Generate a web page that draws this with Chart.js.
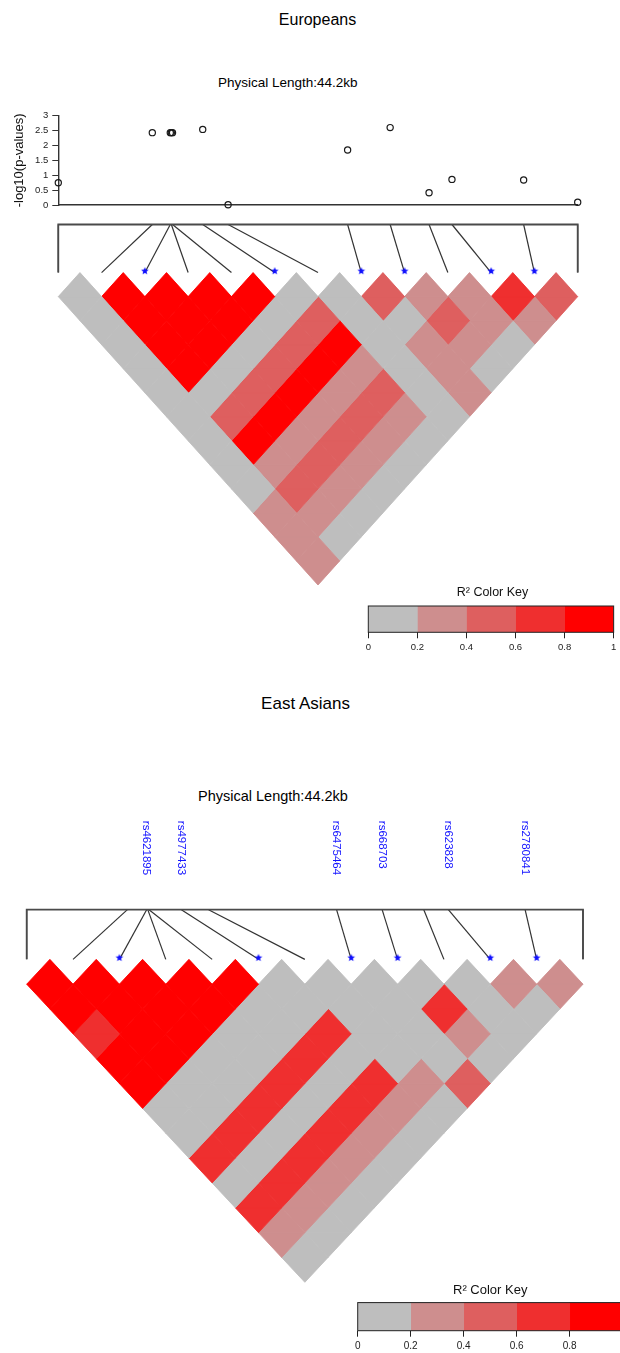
<!DOCTYPE html>
<html>
<head>
<meta charset="utf-8">
<script src="https://cdn.jsdelivr.net/npm/chart.js"></script>
<style>
  html, body { margin: 0; padding: 0; width: 620px; height: 1353px; overflow: hidden; background: #fff; }
  body { position: relative; font-family: "Liberation Sans", Arial, Helvetica, sans-serif; color: #000; }
  canvas { position: absolute; }
  .txt { position: absolute; white-space: nowrap; line-height: 1; transform: translateY(-50%); }
  .ctr { transform: translate(-50%, -50%); }
</style>
</head>
<body>
<div class="txt ctr" style="left:317.5px; top:20px; font-size:16px;">Europeans</div>
<div class="txt" id="lenEur" style="left:218px; top:83px; font-size:13.5px;"></div>
<canvas id="pvalEur" width="620" height="120" style="left:0; top:100px;"></canvas>
<canvas id="ldEur" width="620" height="400" style="left:0; top:200px;"></canvas>
<canvas id="keyEur" width="280" height="90" style="left:340px; top:570px;"></canvas>

<div class="txt ctr" style="left:305.5px; top:703px; font-size:17px;">East Asians</div>
<div class="txt" id="lenEas" style="left:198px; top:796px; font-size:14.5px;"></div>
<canvas id="ldEas" width="620" height="500" style="left:0; top:800px;"></canvas>
<canvas id="keyEas" width="300" height="95" style="left:330px; top:1265px;"></canvas>

<script>
// ---- data ----
const physicalLengthKb = 44.2;
// SNP positions along the region (kb from the first SNP)
const snpPositionsKb = [0, 8.0, 9.53, 9.62, 9.72, 12.29, 14.45, 24.62, 28.24, 31.55, 33.50, 39.60, 44.2];
// association strength for Europeans, -log10(p)
const eurNegLog10P = [0.75, 2.43, 2.43, 2.43, 2.43, 2.54, 0.01, 1.85, 2.60, 0.41, 0.86, 0.84, 0.09];
const pValueTicks = [0, 0.5, 1, 1.5, 2, 2.5, 3];
// highlighted SNPs (1-based index) and their names
const markedSnps = [3, 6, 8, 9, 11, 12];
const markedSnpNames = ["rs4621895", "rs4977433", "rs6475464", "rs668703", "rs623828", "rs2780841"];
// R² colour bins
const r2Breaks = [0, 0.2, 0.4, 0.6, 0.8, 1];
const r2Colors = ["#BEBEBE", "#CE8E8E", "#DE5F5F", "#EF2F2F", "#FF0000"];

// pairwise R²: row i holds SNP i against SNPs i+1 .. 13
const eurR2 = [
  [0.06, 0.04, 0.05, 0.07, 0.03, 0.09, 0.12, 0.08, 0.10, 0.28, 0.33, 0.26],
  [0.96, 0.94, 0.95, 0.92, 0.11, 0.47, 0.88, 0.31, 0.52, 0.29, 0.08],
  [0.97, 0.95, 0.93, 0.12, 0.49, 0.90, 0.33, 0.51, 0.27, 0.07],
  [0.98, 0.94, 0.10, 0.46, 0.89, 0.30, 0.53, 0.32, 0.09],
  [0.95, 0.13, 0.45, 0.91, 0.34, 0.48, 0.28, 0.06],
  [0.09, 0.50, 0.87, 0.29, 0.55, 0.31, 0.05],
  [0.04, 0.06, 0.11, 0.08, 0.13, 0.10],
  [0.52, 0.14, 0.27, 0.35, 0.24],
  [0.30, 0.56, 0.26, 0.12],
  [0.33, 0.22, 0.09],
  [0.71, 0.36],
  [0.45]
];
const easR2 = [
  [0.93, 0.91, 0.74, 0.95, 0.90, 0.08, 0.11, 0.68, 0.05, 0.66, 0.27, 0.04],
  [0.97, 0.95, 0.96, 0.94, 0.09, 0.12, 0.72, 0.06, 0.69, 0.31, 0.03],
  [0.98, 0.96, 0.93, 0.07, 0.10, 0.70, 0.05, 0.67, 0.29, 0.04],
  [0.97, 0.95, 0.06, 0.13, 0.73, 0.08, 0.65, 0.33, 0.02],
  [0.96, 0.10, 0.09, 0.71, 0.07, 0.68, 0.30, 0.05],
  [0.12, 0.08, 0.69, 0.11, 0.64, 0.28, 0.06],
  [0.05, 0.09, 0.07, 0.13, 0.26, 0.08],
  [0.04, 0.10, 0.06, 0.15, 0.47],
  [0.11, 0.72, 0.32, 0.07],
  [0.09, 0.14, 0.05],
  [0.34, 0.12],
  [0.27]
];

// ---- helpers ----
const FONT = '"Liberation Sans", Arial, Helvetica, sans-serif';
Chart.defaults.font.family = FONT;
Chart.defaults.color = "#111";

const nSnp = snpPositionsKb.length;
const slotKb = physicalLengthKb / (nSnp - 1);        // spacing of SNP slots along the triangle top

function r2Color(v) {
  let k = 0;
  while (k < r2Colors.length - 1 && v >= r2Breaks[k + 1]) k++;
  return r2Colors[k];
}

function starImage(r, color) {
  const c = document.createElement("canvas");
  const s = Math.ceil(r * 2 + 2);
  c.width = c.height = s;
  const g = c.getContext("2d");
  g.fillStyle = color;
  g.beginPath();
  for (let k = 0; k < 10; k++) {
    const rad = k % 2 ? r * 0.45 : r;
    const a = -Math.PI / 2 + k * Math.PI / 5;
    g.lineTo(s / 2 + rad * Math.cos(a), s / 2 + rad * Math.sin(a));
  }
  g.closePath();
  g.fill();
  return c;
}

// one filled diamond per SNP pair; y is depth below the SNP line (one cell = 1 unit)
function cellDatasets(r2) {
  const sets = [];
  r2.forEach((row, i) => row.forEach((v, b) => {
    const j = i + 1 + b;
    const cx = (i + j) / 2 * slotKb;
    const d = (j - i) / 2;
    const hw = slotKb / 2;
    const col = r2Color(v);
    sets.push({
      data: [
        { x: cx - hw, y: d }, { x: cx, y: d - 0.5 }, { x: cx + hw, y: d },
        { x: cx, y: d + 0.5 }, { x: cx - hw, y: d }, { x: cx + hw, y: d }
      ],
      backgroundColor: col, borderColor: col, borderWidth: 0.9,
      fill: "shape", pointRadius: 0, tension: 0, clip: false, order: 3
    });
  }));
  return sets;
}

// bracket over the region and the lines tying each physical position to its slot
function connectorDatasets() {
  const sets = [{
    data: [{ x: 0, y: 0 }, { x: 0, y: -1 }, { x: physicalLengthKb, y: -1 }, { x: physicalLengthKb, y: 0 }],
    borderColor: "#4a4a4a", borderWidth: 1.8, pointRadius: 0, fill: false, clip: false, order: 1
  }];
  snpPositionsKb.forEach((pos, k) => {
    sets.push({
      data: [{ x: pos, y: -1 }, { x: k * slotKb, y: 0 }],
      borderColor: "#333", borderWidth: 1.2, pointRadius: 0, fill: false, clip: false, order: 2
    });
  });
  sets.push({
    data: markedSnps.map(k => ({ x: (k - 1) * slotKb, y: -0.03 })),
    showLine: false, pointStyle: starImage(4, "#1010ff"), pointRadius: 4,
    fill: false, clip: false, order: 0
  });
  return sets;
}

function ldChart(id, r2, pad, yMin, extraPlugins) {
  return new Chart(document.getElementById(id), {
    type: "line",
    data: { datasets: [...cellDatasets(r2), ...connectorDatasets()] },
    options: {
      responsive: false, animation: false, events: [],
      layout: { autoPadding: false, padding: pad },
      plugins: { legend: { display: false }, tooltip: { enabled: false } },
      scales: {
        x: { type: "linear", min: 0, max: physicalLengthKb, display: false },
        y: { type: "linear", min: yMin, max: 6.5, reverse: true, display: false }
      }
    },
    plugins: extraPlugins || []
  });
}

const keyFrame = {
  id: "keyFrame",
  afterDatasetsDraw(chart) {
    const { ctx, chartArea: a } = chart;
    ctx.save();
    ctx.strokeStyle = "#222";
    ctx.lineWidth = 1;
    ctx.strokeRect(a.left, a.top, a.right - a.left, a.bottom - a.top);
    ctx.restore();
  }
};

function keyChart(id, pad, titlePad, titleSize, tickSize, tickPad) {
  return new Chart(document.getElementById(id), {
    type: "bar",
    data: {
      labels: [""],
      datasets: r2Colors.map((c, k) => ({
        data: [[r2Breaks[k], r2Breaks[k + 1]]],
        backgroundColor: c, borderWidth: 0, barPercentage: 1, categoryPercentage: 1
      }))
    },
    options: {
      indexAxis: "y", responsive: false, animation: false, events: [],
      layout: { autoPadding: false, padding: pad },
      plugins: {
        legend: { display: false }, tooltip: { enabled: false },
        title: { display: true, text: "R\u00B2 Color Key", color: "#111",
                 font: { size: titleSize, weight: "normal" }, padding: titlePad }
      },
      scales: {
        x: {
          type: "linear", min: 0, max: 1,
          afterBuildTicks(s) { s.ticks = r2Breaks.map(v => ({ value: v })); },
          grid: { drawOnChartArea: false, drawTicks: true, tickLength: 6, color: "#222", lineWidth: 1 },
          border: { display: false },
          ticks: { padding: tickPad, font: { size: tickSize }, color: "#222", maxRotation: 0, autoSkip: false,
                   callback: v => String(v) },
          afterFit(s) { s.height = 20; }
        },
        y: { display: false, stacked: true }
      }
    },
    plugins: [keyFrame]
  });
}

// ---- Europeans ----
document.getElementById("lenEur").textContent = "Physical Length:" + physicalLengthKb + "kb";
document.getElementById("lenEas").textContent = "Physical Length:" + physicalLengthKb + "kb";

new Chart(document.getElementById("pvalEur"), {
  type: "scatter",
  data: {
    datasets: [{
      data: snpPositionsKb.map((x, k) => ({ x: x, y: eurNegLog10P[k] })),
      pointStyle: "circle", pointRadius: 3.1, pointBorderWidth: 1.2,
      pointBorderColor: "#1a1a1a", pointBackgroundColor: "rgba(0,0,0,0)", clip: false
    }]
  },
  options: {
    responsive: false, animation: false, events: [],
    layout: { autoPadding: false, padding: { left: 0, right: 42.3, top: 15.7, bottom: 15 } },
    plugins: { legend: { display: false }, tooltip: { enabled: false } },
    scales: {
      x: {
        type: "linear", min: 0, max: physicalLengthKb,
        grid: { display: false }, ticks: { display: false },
        border: { display: true, color: "#333", width: 1.4 },
        afterFit(s) { s.height = 0; }
      },
      y: {
        type: "linear", min: 0, max: 3,
        afterBuildTicks(s) { s.ticks = pValueTicks.map(v => ({ value: v })); },
        grid: { drawOnChartArea: false, drawTicks: true, tickLength: 6, color: "#333", lineWidth: 1 },
        border: { display: true, color: "#333", width: 1.4 },
        ticks: { padding: 4, font: { size: 9.5 }, color: "#222", callback: v => String(v) },
        title: { display: true, text: "-log10(p-values)", color: "#111", font: { size: 13 },
                 padding: { top: 11.4, bottom: 0 } },
        afterFit(s) { s.width = 58.3; }
      }
    }
  }
});

ldChart("ldEur", eurR2, { left: 58.3, right: 42.3, top: 24.5, bottom: 15 }, -1);
keyChart("keyEur", { left: 28.3, right: 3.3, top: 0, bottom: 7.7 }, { top: 14.8, bottom: 6.2 }, 12.5, 9.5, 3.7);

// ---- East Asians ----
const snpNameLabels = {
  id: "snpNameLabels",
  afterDatasetsDraw(chart) {
    const { ctx, chartArea, scales } = chart;
    ctx.save();
    ctx.fillStyle = "#1414ff";
    ctx.font = "11.5px " + FONT;
    ctx.textAlign = "left";
    ctx.textBaseline = "middle";
    markedSnps.forEach((k, n) => {
      const x = scales.x.getPixelForValue(snpPositionsKb[k - 1]);
      ctx.save();
      ctx.translate(x, chartArea.top + 10.5);
      ctx.rotate(Math.PI / 2);
      ctx.fillText(markedSnpNames[n], 0, 0);
      ctx.restore();
    });
    ctx.restore();
  }
};

ldChart("ldEas", easR2, { left: 26.7, right: 37, top: 10.3, bottom: 17.7 }, -3, [snpNameLabels]);
keyChart("keyEas", { left: 27.7, right: 7.3, top: 0, bottom: 9.3 }, { top: 17.5, bottom: 4.5 }, 13, 10, 3.6);
</script>
</body>
</html>
